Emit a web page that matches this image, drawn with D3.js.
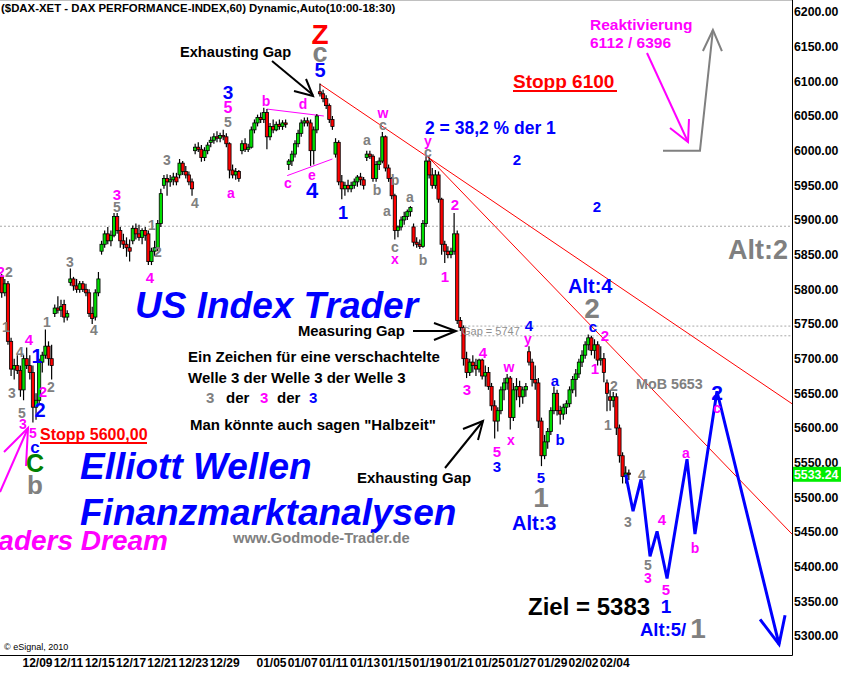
<!DOCTYPE html>
<html><head><meta charset="utf-8">
<script src="https://cdn.jsdelivr.net/npm/d3@7"></script>
<style>
html,body{margin:0;padding:0;background:#fff;}
svg{display:block;font-family:Arial,"Liberation Sans",sans-serif;}
</style></head>
<body>
<svg id="chart" width="841" height="676"></svg>
<script>
// ---------- DATA ----------
const title = "($DAX-XET - DAX PERFORMANCE-INDEX,60) Dynamic,Auto(10:00-18:30)";
const tradingDays = ["12/07","12/08","12/09","12/10","12/11","12/14","12/15","12/16","12/17","12/18","12/21","12/22","12/23","12/28","12/29","12/30","01/04","01/05","01/06","01/07","01/08","01/11","01/12","01/13","01/14","01/15","01/18","01/19","01/20","01/21","01/22","01/25","01/26","01/27","01/28","01/29","02/01","02/02","02/03","02/04","02/05"];
const xLabels = ["12/09","12/11","12/15","12/17","12/21","12/23","12/29","01/05","01/07","01/11","01/13","01/15","01/19","01/21","01/25","01/27","01/29","02/02","02/04"];
const yTicks = [5300,5350,5400,5450,5500,5550,5600,5650,5700,5750,5800,5850,5900,5950,6000,6050,6100,6150,6200];
const lastPrice = 5533.24;
// OHLC, 5 bars per trading day (open, high, low, close)
const ohlc = [
[5800,5812,5790,5805],[5805,5815,5795,5800],[5800,5825,5795,5818],[5818,5822,5788,5795],[5795,5815,5790,5808],
[5808,5812,5720,5725],[5725,5730,5675,5685],[5685,5700,5670,5690],[5690,5705,5678,5683],[5683,5690,5645,5655],
[5655,5705,5640,5700],[5700,5716,5685,5690],[5690,5705,5670,5680],[5680,5690,5608,5630],[5630,5650,5612,5640],
[5640,5700,5635,5695],[5695,5710,5680,5705],[5705,5742,5700,5718],[5718,5725,5690,5700],[5700,5720,5670,5690],
[5765,5778,5760,5773],[5773,5790,5765,5770],[5770,5785,5760,5775],[5778,5785,5752,5760],[5760,5770,5755,5765],
[5810,5830,5805,5815],[5815,5818,5798,5805],[5805,5815,5795,5800],[5800,5812,5795,5808],[5808,5812,5796,5800],
[5800,5808,5790,5795],[5795,5800,5760,5765],[5765,5775,5750,5758],[5760,5800,5755,5795],[5795,5825,5790,5815],
[5855,5870,5850,5865],[5865,5885,5860,5880],[5880,5890,5865,5870],[5870,5885,5862,5878],[5878,5910,5875,5905],
[5905,5910,5880,5885],[5885,5890,5860,5870],[5870,5880,5858,5865],[5865,5875,5847,5860],[5860,5872,5840,5855],
[5870,5892,5865,5888],[5888,5895,5872,5880],[5880,5893,5870,5875],[5875,5888,5865,5885],[5885,5890,5870,5878],
[5880,5885,5835,5840],[5840,5860,5835,5855],[5855,5870,5848,5860],[5860,5900,5855,5895],[5895,5945,5890,5938],
[5950,5965,5945,5960],[5960,5966,5935,5955],[5955,5965,5948,5958],[5958,5968,5950,5962],[5962,5968,5950,5955],
[5965,5988,5960,5982],[5982,5985,5965,5970],[5970,5978,5960,5965],[5965,5970,5950,5955],[5955,5960,5935,5945],
[6000,6010,5995,6005],[6005,6012,5998,6002],[6002,6008,5984,5990],[5990,6005,5985,6000],[6000,6012,5995,6008],
[6012,6020,6005,6015],[6015,6025,6010,6020],[6020,6028,6012,6018],[6018,6026,6012,6022],[6022,6030,6015,6020],
[6020,6025,6005,6010],[6010,6012,5960,5972],[5972,5980,5960,5965],[5965,5975,5958,5970],[5970,5972,5955,5960],
[6000,6015,5995,6010],[6010,6018,5998,6002],[6002,6010,5998,6005],[6005,6035,6003,6030],[6030,6045,6025,6040],
[6040,6052,6035,6048],[6048,6055,6040,6045],[6045,6062,6040,6055],[6055,6060,6002,6020],[6020,6040,6015,6035],
[6035,6045,6025,6030],[6030,6042,6028,6038],[6038,6045,6030,6035],[6035,6044,6030,6040],[6040,6045,6033,6038],
[5980,5988,5972,5985],[5985,6000,5978,5995],[5995,6015,5990,6010],[6010,6030,6005,6025],[6025,6045,6020,6040],
[6040,6048,6035,6043],[6043,6048,6035,6040],[6040,6045,5978,6000],[6000,6035,5980,6030],[6030,6053,6025,6050],
[6085,6097,6078,6082],[6082,6088,6070,6075],[6075,6080,6060,6065],[6065,6068,6040,6045],[6045,6050,6030,6035],
[5995,6018,5990,6012],[6012,6015,5950,5955],[5955,5965,5930,5945],[5945,5955,5935,5950],[5950,5958,5940,5945],
[5945,5955,5940,5950],[5950,5960,5945,5955],[5955,5965,5948,5962],[5962,5968,5950,5958],[5958,5962,5944,5950],
[5990,6000,5985,5995],[5995,6000,5988,5992],[5992,5995,5955,5960],[5960,5985,5955,5980],[5980,5990,5972,5985],
[5985,6027,5982,6020],[6020,6022,5970,5975],[5975,5980,5955,5960],[5960,5962,5930,5935],[5935,5938,5872,5885],
[5885,5892,5875,5890],[5890,5905,5885,5900],[5900,5912,5893,5905],[5905,5915,5900,5912],[5912,5920,5905,5918],
[5890,5895,5862,5868],[5868,5875,5860,5865],[5865,5872,5858,5862],[5862,5900,5860,5895],[5895,5992,5890,5985],
[5985,5990,5960,5965],[5965,5975,5945,5950],[5950,5972,5945,5965],[5965,5970,5925,5930],[5930,5932,5850,5865],
[5865,5870,5838,5855],[5855,5862,5845,5850],[5850,5860,5845,5855],[5855,5910,5850,5880],[5880,5885,5750,5755],
[5755,5760,5740,5745],[5745,5748,5690,5700],[5700,5710,5672,5680],[5680,5700,5675,5695],[5695,5705,5680,5690],
[5690,5700,5675,5685],[5685,5700,5680,5698],[5698,5700,5670,5675],[5675,5690,5660,5680],[5680,5688,5655,5660],
[5660,5665,5625,5632],[5632,5640,5585,5610],[5610,5630,5595,5625],[5625,5660,5620,5655],[5655,5672,5640,5665],
[5665,5678,5655,5672],[5672,5675,5598,5615],[5615,5665,5610,5655],[5655,5672,5640,5660],[5660,5668,5630,5645],
[5645,5660,5635,5655],[5655,5665,5645,5660],[5710,5718,5690,5695],[5695,5700,5660,5670],[5670,5690,5655,5665],
[5665,5672,5600,5610],[5610,5615,5545,5560],[5560,5590,5555,5580],[5580,5600,5570,5595],[5595,5630,5590,5625],
[5625,5660,5620,5650],[5650,5655,5618,5625],[5625,5632,5605,5620],[5620,5635,5612,5630],[5630,5640,5620,5635],
[5635,5660,5630,5655],[5655,5675,5650,5670],[5670,5685,5645,5678],[5678,5700,5672,5695],[5695,5712,5688,5705],
[5705,5725,5700,5720],[5720,5735,5712,5730],[5730,5733,5705,5712],[5712,5728,5700,5720],[5720,5725,5690,5698],
[5698,5718,5690,5700],[5700,5708,5666,5680],[5665,5670,5624,5650],[5645,5655,5625,5640],[5640,5652,5630,5645],
[5645,5650,5590,5600],[5600,5605,5550,5560],[5560,5565,5520,5530],[5530,5545,5520,5535],[5535,5540,5525,5533.24]
];
const barsPerDay = 5;
// Elliott forecast path (day offset from 12/09, price)
const forecastDay   = [38.7, 39.17, 39.68, 40.26, 40.71, 41.35, 42.63, 43.14, 44.55, 48.53];
const forecastPrice = [5533, 5480, 5526, 5415, 5451, 5383, 5555, 5447, 5653, 5288];
// Trend lines [day1, price1, day2, price2]
const trendLines = [[19.1, 6096, 49.36, 5635], [26.03, 5991, 49.36, 5447]];
// Horizontal reference levels [price, fromDay]
const levels = [[5891, -1.41], [5747, 28.1], [5733, 28.1]];
// Triangle boundary lines (wave 4)
const triangle = [[15.7, 6060, 19.35, 6050], [17.0, 5964, 19.9, 5988]];
// Reactivation arrow (grey): day, price
const reactDay = [41.09, 43.46, 44.29];
const reactPrice = [6000, 6000, 6174];

// ---------- SCALES ----------
const W = 841, H = 676, plotR = 792, plotB = 655;
const x = d3.scaleLinear().domain([-1.41, 49.36]).range([0, plotR]);
const y = d3.scaleLinear().domain([5300, 6200]).range([636, 12]);
const svg = d3.select("#chart");
const F = 'Arial,"Liberation Sans",sans-serif';

svg.append("defs").append("clipPath").attr("id","clip")
  .append("rect").attr("x",0).attr("y",0).attr("width",plotR).attr("height",plotB);
const plot = svg.append("g").attr("clip-path","url(#clip)");

levels.forEach(([p, d0]) => {
  plot.append("line").attr("x1", x(d0)).attr("x2", plotR).attr("y1", y(p)).attr("y2", y(p))
    .attr("stroke", "#a8a8a8").attr("stroke-width", 1).attr("stroke-dasharray", "2,2");
});
trendLines.forEach(([d1,p1,d2,p2]) => {
  plot.append("line").attr("x1",x(d1)).attr("y1",y(p1)).attr("x2",x(d2)).attr("y2",y(p2))
    .attr("stroke","#ff0000").attr("stroke-width",1);
});
triangle.forEach(([d1,p1,d2,p2]) => {
  plot.append("line").attr("x1",x(d1)).attr("y1",y(p1)).attr("x2",x(d2)).attr("y2",y(p2))
    .attr("stroke","#ff00ff").attr("stroke-width",1);
});

// candles
const bars = ohlc.map((b, i) => {
  const day = Math.floor(i / barsPerDay) - 2;
  const slot = i % barsPerDay;
  return {t: day + (slot + 0.5) / barsPerDay, o: b[0], h: b[1], l: b[2], c: b[3]};
});
const bw = 3.2;
const cg = plot.append("g");
cg.selectAll("line.w").data(bars).join("line").attr("class","w")
  .attr("x1", d => x(d.t)).attr("x2", d => x(d.t))
  .attr("y1", d => y(d.h)).attr("y2", d => y(d.l))
  .attr("stroke", "#000").attr("stroke-width", 1.2);
cg.selectAll("rect").data(bars).join("rect")
  .attr("x", d => x(d.t) - bw/2)
  .attr("y", d => y(Math.max(d.o, d.c)))
  .attr("width", bw)
  .attr("height", d => Math.max(1, Math.abs(y(d.o) - y(d.c))))
  .attr("fill", d => d.c >= d.o ? "#00dd00" : "#ff0000")
  .attr("stroke", "#000").attr("stroke-width", 0.8);

// forecast path
const fc = forecastDay.map((d, i) => [x(d), y(forecastPrice[i])]);
plot.append("path").attr("d", d3.line()(fc)).attr("fill","none")
  .attr("stroke","#0000ff").attr("stroke-width",3).attr("stroke-linejoin","miter");
const tip = fc[fc.length-1];
plot.append("path").attr("d", d3.line()([[tip[0]-19, tip[1]-25],[tip[0], tip[1]],[tip[0]+6, tip[1]-29]]))
  .attr("fill","none").attr("stroke","#0000ff").attr("stroke-width",3);

// reactivation grey arrow
const ra = reactDay.map((d,i)=>[x(d), y(reactPrice[i])]);
plot.append("path").attr("d", d3.line()(ra)).attr("fill","none").attr("stroke","#808080").attr("stroke-width",2);
const rt = ra[ra.length-1];
plot.append("path").attr("d", d3.line()([[rt[0]-10, rt[1]+21],[rt[0], rt[1]],[rt[0]+9, rt[1]+21]]))
  .attr("fill","none").attr("stroke","#808080").attr("stroke-width",2);

// ---------- annotation arrows (pixel layout) ----------
const arrows = [
  {c:"#000", w:2, pts:[[272,61],[313,95]]},
  {c:"#000", w:2, pts:[[294,91],[313,96],[306,79]]},
  {c:"#000", w:2, pts:[[413,331],[456,331]]},
  {c:"#000", w:2, pts:[[434,323],[456,331],[434,340]]},
  {c:"#000", w:2, pts:[[445,468],[483,421]]},
  {c:"#000", w:2, pts:[[463,429],[483,421],[478,440]]},
  {c:"#ff00ff", w:2, pts:[[0,492],[28,428]]},
  {c:"#ff00ff", w:2, pts:[[4,452],[28,428],[26,466]]},
  {c:"#ff00ff", w:2, pts:[[647,53],[688,142]]},
  {c:"#ff00ff", w:2, pts:[[670,128],[688,142],[689,119]]}
];
arrows.forEach(a => svg.append("path").attr("d", d3.line()(a.pts)).attr("fill","none")
  .attr("stroke", a.c).attr("stroke-width", a.w));

// ---------- frame & axes ----------
svg.append("line").attr("x1",plotR+0.5).attr("x2",plotR+0.5).attr("y1",0).attr("y2",plotB+0.5).attr("stroke","#000");
svg.append("line").attr("x1",0).attr("x2",plotR+0.5).attr("y1",plotB+0.5).attr("y2",plotB+0.5).attr("stroke","#000");
svg.append("line").attr("x1",0).attr("x2",plotR).attr("y1",0.5).attr("y2",0.5).attr("stroke","#c0c0c0");

const yAxis = svg.append("g").attr("transform",`translate(${plotR},0)`)
  .call(d3.axisRight(y).tickValues(yTicks).tickFormat(d3.format(".2f")).tickSize(0).tickPadding(2));
yAxis.select(".domain").remove();
yAxis.selectAll("text").attr("font-family",F).attr("font-size",12.3).attr("font-weight","bold").attr("fill","#000");

svg.append("rect").attr("x",plotR+1).attr("y",y(lastPrice)-7.5).attr("width",W-plotR-1).attr("height",15).attr("fill","#00ee00");
svg.append("text").attr("x",plotR+2).attr("y",y(lastPrice)).attr("dy","0.35em").text(lastPrice.toFixed(2))
  .attr("font-family",F).attr("font-size",12.3).attr("font-weight","bold").attr("fill","#fff");

const labelDays = xLabels.map(l => tradingDays.indexOf(l) - 2);
const xAxis = svg.append("g").attr("transform",`translate(0,${plotB})`)
  .call(d3.axisBottom(x).tickValues(labelDays).tickFormat((d,i)=>xLabels[i]).tickSize(0).tickPadding(3));
xAxis.select(".domain").remove();
xAxis.selectAll("text").attr("text-anchor","start").attr("font-family",F).attr("font-size",12)
  .attr("font-weight","bold").attr("fill","#000");

// ---------- texts ----------
const M="#ff00ff", G="#808080", B="#0000ff", K="#000", R="#ff0000";
const waveLabels = [
 ["2",1,272,14,M],["2",9,272,14,G],["1",6,327,14,G],["3",70,262,14,G],["4",94,330,14,G],
 ["4",29,340,15,M],["4",20,352,14,G],["1",37,356,20,B],["1",47,322,14,G],["3",12,393,14,G],
 ["2",43,392,15,M],["2",51,387,14,G],["2",40,410,20,B],["5",22,413,14,G],["3",23,424,14,M],
 ["5",33,433,14,M],["c",35,447,17,B],["C",35,463,25,"#008000"],["b",35,485,26,G],
 ["3",117,195,15,M],["5",117,207,14,G],["4",150,278,15,M],["1",152,225,14,G],["2",158,252,14,G],
 ["3",167,160,14,G],["4",195,203,14,G],["3",228,92,19,B],["5",228,107,16,M],["5",228,122,14,G],
 ["a",231,193,14,M],["b",266,101,14,M],["d",303,104,14,M],["c",288,183,14,M],["e",312,175,14,M],
 ["4",312,190,22,B],["Z",320,34,28,R],["c",320,53,27,G],["5",320,70,20,B],["1",343,213,18,B],
 ["a",367,140,14,G],["w",383,113,14,M],["c",383,125,14,G],["b",377,190,14,G],["b",395,180,14,G],
 ["a",387,211,14,G],["c",395,247,14,G],["x",395,259,14,M],["a",410,197,14,G],["b",423,260,14,G],
 ["y",428,141,14,M],["c",428,152,14,G],["1",445,277,15,M],["2",455,205,15,M],["3",467,390,15,M],
 ["4",483,353,15,M],["w",509,367,14,M],["x",511,440,14,M],["5",497,452,15,M],["3",497,467,15,B],
 ["4",529,326,15,B],["y",528,339,14,M],["5",541,478,15,B],["1",541,497,28,G],["a",555,381,15,B],
 ["b",560,440,15,B],["c",593,327,15,B],["2",592,308,28,G],["2",605,336,15,M],["1",595,369,15,M],
 ["2",614,386,14,G],["1",608,425,14,G],["4",642,475,14,G],["3",628,522,14,G],["5",648,565,14,G],
 ["3",648,578,14,M],["4",662,520,15,M],["5",666,590,15,M],["1",666,606,19,B],["a",686,453,14,M],
 ["b",695,548,14,M],["2",717,393,21,B],["c",717,408,14,M],["2",517,160,15,B],["2",597,207,15,B]
];
waveLabels.forEach(([t,cx,cy,s,c]) => svg.append("text").attr("x",cx).attr("y",cy).attr("dy","0.35em")
  .attr("text-anchor","middle").attr("font-family",F).attr("font-size",s).attr("font-weight","bold")
  .attr("fill",c).text(t));

const notes = [
 [title,1,8,11.4,K,"start",""],
 ["Exhausting Gap",180,52,14.6,K,"start",""],
 ["Stopp 6100",513,81,19,R,"start",""],
 ["2 = 38,2 % der 1",425,128,17.5,B,"start",""],
 ["Reaktivierung",590,25,15.5,M,"start",""],
 ["6112 / 6396",590,43,15.5,M,"start",""],
 ["Alt:2",728,250,27,G,"start",""],
 ["Alt:4",568,286,20,B,"start",""],
 ["MoB 5653",636,384,14.3,G,"start",""],
 ["Alt:3",512,523,20,B,"start",""],
 ["Ziel = 5383",528,607,24,K,"start",""],
 ["Alt:5/",640,630,18.5,B,"start",""],
 ["US Index Trader",135,305,37,B,"start","italic"],
 ["Measuring Gap",298,331,14.8,K,"start",""],
 ["Ein Zeichen für eine verschachtelte",188,357,15,K,"start",""],
 ["Welle 3 der Welle 3 der Welle 3",188,378,15,K,"start",""],
 ["3",206,398,15,G,"start",""],["der",226,398,15,K,"start",""],
 ["3",260,398,15,M,"start",""],["der",277,398,15,K,"start",""],
 ["3",309,398,15,B,"start",""],
 ["Man könnte auch sagen \"Halbzeit\"",190,425,15,K,"start",""],
 ["Exhausting Gap",357,478,15,K,"start",""],
 ["Elliott Wellen",80,466,37,B,"start","italic"],
 ["Finanzmarktanalysen",80,512,37,B,"start","italic"],
 ["Traders Dream",168,540,28,M,"end","italic"],
 ["www.Godmode-Trader.de",233,538,14.7,G,"start",""],
 ["Stopp 5600,00",40,434,16,R,"start",""],
];
notes.forEach(([t,cx,cy,s,c,anchor,st]) => svg.append("text").attr("x",cx).attr("y",cy).attr("dy","0.35em")
  .attr("text-anchor",anchor).attr("font-family",F).attr("font-size",s).attr("font-weight","bold")
  .attr("font-style",st||"normal").attr("fill",c).text(t));
svg.append("text").attr("x",698).attr("y",628).attr("dy","0.35em").attr("text-anchor","middle")
  .attr("font-family",F).attr("font-size",28).attr("font-weight","bold").attr("fill",G).text("1");
svg.append("text").attr("x",462).attr("y",331).attr("dy","0.35em").attr("font-family",F)
  .attr("font-size",11).attr("fill","#909090").text("Gap = 5747");
svg.append("text").attr("x",4).attr("y",647).attr("dy","0.35em").attr("font-family",F)
  .attr("font-size",9).attr("fill",K).text("© eSignal, 2010");
[[513,617,91],[40,147,443]].forEach(([a,b,yy]) => svg.append("line").attr("x1",a).attr("x2",b)
  .attr("y1",yy).attr("y2",yy).attr("stroke",R).attr("stroke-width",2));
</script>
</body></html>
